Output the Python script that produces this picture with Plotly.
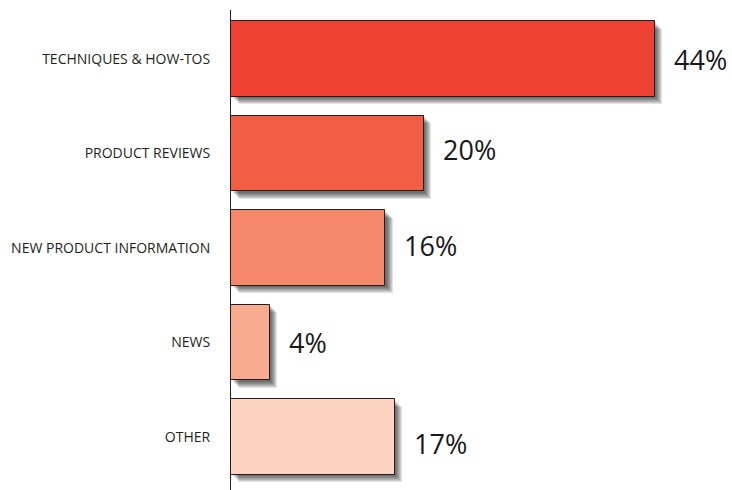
import plotly.graph_objects as go

categories = ["TECHNIQUES & HOW-TOS", "PRODUCT REVIEWS", "NEW PRODUCT INFORMATION", "NEWS", "OTHER"]
values = [44, 20, 16, 4, 17]
labels = ["44%", "20%", "16%", "4%", "17%"]
colors = ["#EF4132", "#F15E43", "#F5886A", "#F9AB8F", "#FCD3C1"]
label_yshift = [0, 4, 2, 0, -7]

PX_PER_UNIT = 9.63
PX_PER_CAT = 94.5
BAR_W = 0.8

fig = go.Figure()

# blurred drop shadow: stacked translucent copies shifted right/down
for s in [1.5, 2.5, 3.5, 4.5, 5.5, 6.5, 7.5]:
    fig.add_trace(go.Bar(
        y=categories, x=values, orientation="h",
        base=s / PX_PER_UNIT,
        width=BAR_W,
        offset=-BAR_W / 2 + s / PX_PER_CAT,
        marker=dict(color="rgba(0,0,0,0.11)", line=dict(width=0)),
        hoverinfo="skip", showlegend=False,
    ))

fig.add_trace(go.Bar(
    y=categories, x=values, orientation="h",
    width=BAR_W,
    marker=dict(color=colors, line=dict(color="#231F20", width=1)),
    showlegend=False,
))

for c, v, t, dy in zip(categories, values, labels, label_yshift):
    fig.add_annotation(
        x=v, y=c, text=t, showarrow=False,
        xanchor="left", yanchor="middle", xshift=17, yshift=dy,
        font=dict(family="Open Sans", size=27, color="#1A1718"),
    )

fig.update_layout(
    width=732, height=490,
    margin=dict(l=231, r=0, t=10, b=0),
    paper_bgcolor="white", plot_bgcolor="white",
    barmode="overlay",
    bargap=0,
    xaxis=dict(range=[0, 501 / PX_PER_UNIT], visible=False, fixedrange=True),
    yaxis=dict(
        range=[4.561, -0.5185],
        showline=True, linecolor="#231F20", linewidth=1,
        showgrid=False, zeroline=False, ticks="",
        ticklabelstandoff=17,
        tickfont=dict(family="Open Sans", size=14, color="#231F20"),
        fixedrange=True,
    ),
)

fig.write_html("out.html")
